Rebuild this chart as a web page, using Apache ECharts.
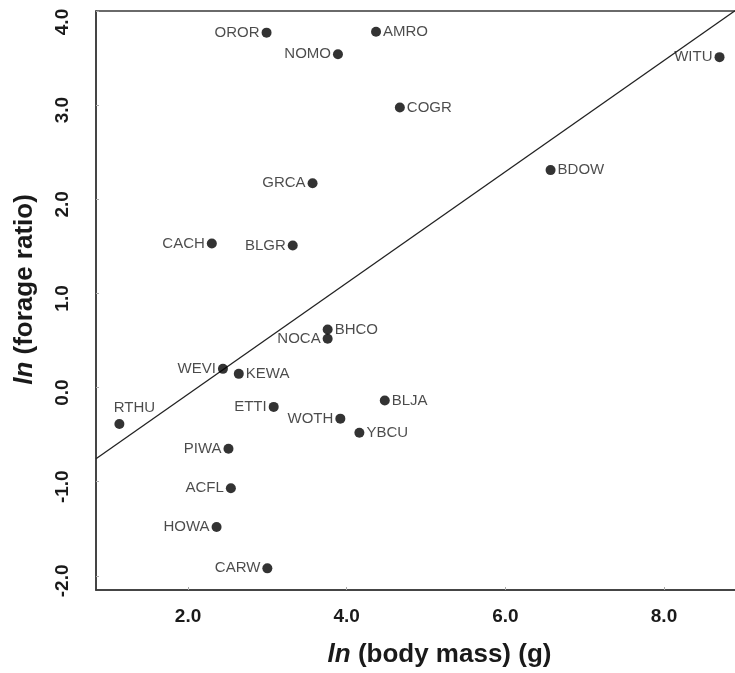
<!DOCTYPE html>
<html>
<head>
<meta charset="utf-8">
<script src="https://cdn.jsdelivr.net/npm/echarts@6/dist/echarts.min.js"></script>
<style>
html,body{margin:0;padding:0;background:#fff;overflow:hidden;}
#c{width:735px;height:673px;}
</style>
</head>
<body>
<div id="c"></div>
<script>
// Species codes, ln(body mass), ln(forage ratio), label side
const species = ['OROR','AMRO','NOMO','COGR','GRCA','WITU','BDOW','CACH','BLGR','BHCO','NOCA','WEVI','KEWA','ETTI','WOTH','BLJA','YBCU','RTHU','PIWA','ACFL','HOWA','CARW'];
const lnMass  = [2.99, 4.37, 3.89, 4.67, 3.57, 8.70, 6.57, 2.30, 3.32, 3.76, 3.76, 2.44, 2.64, 3.08, 3.92, 4.48, 4.16, 1.135, 2.51, 2.54, 2.36, 3.00];
const lnForage= [3.77, 3.78, 3.54, 2.975, 2.17, 3.51, 2.31, 1.53, 1.51, 0.617, 0.518, 0.199, 0.146, -0.205, -0.33, -0.138, -0.48, -0.386, -0.65, -1.07, -1.48, -1.92];
const labelSide = ['left','right','left','right','left','left','right','left','left','right','left','left','right','left','left','right','right','top','left','left','left','left'];
// Regression line endpoints (x, y)
const regLine = [[0.84, -0.755], [9.5, 4.36]];
const xTicks = [2, 4, 6, 8];
const yTicks = [-2, -1, 0, 1, 2, 3, 4];

const FONT = 'Liberation Sans, Arial, Helvetica, sans-serif';
const pts = species.map((s, i) => {
  const side = labelSide[i];
  const lab = {show: true, position: side, distance: side === 'top' ? 4 : 2, formatter: s};
  if (side === 'top') lab.offset = [15, 0];
  return {value: [lnMass[i], lnForage[i]], label: lab};
});

const chart = echarts.init(document.getElementById('c'), null, {renderer: 'canvas'});
chart.setOption({
  animation: false,
  backgroundColor: '#fff',
  grid: {left: 96, top: 11, width: 687, height: 579, outerBoundsMode: 'none', containLabel: false,
         show: true, borderColor: '#3a3a3a', borderWidth: 1.5, backgroundColor: 'transparent'},
  xAxis: {
    type: 'value', min: 0.84, max: 9.5,
    splitLine: {show: false},
    axisLine: {show: true, onZero: false, lineStyle: {color: '#3a3a3a', width: 1.5}},
    axisTick: {show: true, length: 3, inside: true, customValues: xTicks, lineStyle: {color: '#aaa'}},
    axisLabel: {customValues: xTicks, formatter: v => v.toFixed(1), fontFamily: FONT, fontWeight: 'bold', fontSize: 19, color: '#1a1a1a', margin: 17},
    name: '{i|ln} (body mass) (g)', nameLocation: 'middle', nameGap: 52,
    nameTextStyle: {fontFamily: FONT, fontWeight: 'bold', fontSize: 26, color: '#1a1a1a',
      rich: {i: {fontFamily: FONT, fontWeight: 'bold', fontStyle: 'italic', fontSize: 26, color: '#1a1a1a'}}}
  },
  yAxis: {
    type: 'value', min: -2.15, max: 4.0,
    splitLine: {show: false},
    axisLine: {show: true, onZero: false, lineStyle: {color: '#3a3a3a', width: 1.5}},
    axisTick: {show: true, length: 3, inside: true, customValues: yTicks, lineStyle: {color: '#aaa'}},
    axisLabel: {customValues: yTicks,
      formatter: v => v === 4 ? '{t|' + v.toFixed(1) + '}' : v.toFixed(1),
      rich: {t: {fontFamily: FONT, fontWeight: 'bold', fontSize: 19, color: '#1a1a1a', padding: [0, 12, 0, 0]}},
      rotate: 90, fontFamily: FONT, fontWeight: 'bold', fontSize: 19, color: '#1a1a1a', margin: 24,
      padding: [0, 10, 0, 0], showMaxLabel: true, showMinLabel: true},
    name: '{i|ln} (forage ratio)', nameLocation: 'middle', nameGap: 58,
    nameTextStyle: {fontFamily: FONT, fontWeight: 'bold', fontSize: 26, color: '#1a1a1a', padding: [0, 0, 0, 22],
      rich: {i: {fontFamily: FONT, fontWeight: 'bold', fontStyle: 'italic', fontSize: 26, color: '#1a1a1a'}}}
  },
  series: [
    {
      type: 'line', data: regLine, showSymbol: false, symbol: 'none', clip: true,
      lineStyle: {color: '#222', width: 1.3}, silent: true, z: 2
    },
    {
      type: 'scatter', data: pts, symbol: 'circle', symbolSize: 10,
      itemStyle: {color: '#000'},
      label: {fontFamily: FONT, fontSize: 15, color: '#1e1e1e'},
      z: 3
    }
  ]
});
</script>
</body>
</html>
